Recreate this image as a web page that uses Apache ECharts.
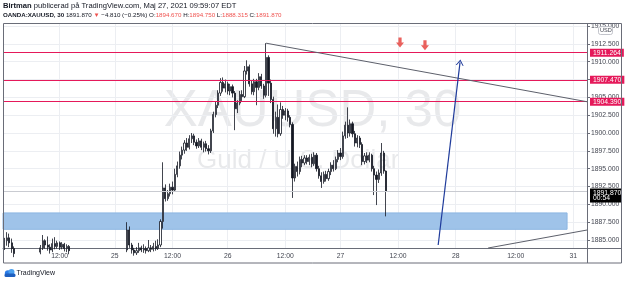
<!DOCTYPE html>
<html>
<head>
<meta charset="utf-8">
<script src="https://cdn.jsdelivr.net/npm/echarts/dist/echarts.min.js"></script>
<style>
  html, body { margin: 0; padding: 0; background: #fff; }
  #chart { width: 625px; height: 283px; }
</style>
</head>
<body>
<div id="chart"></div>
<script>
// 30 min candles, XAUUSD: [open, close, low, high]
const ohlc = [
  [1884.2,1884.9,1883.6,1885.3],[1884.9,1885.3,1884.2,1886.1],[1885.3,1884.6,1884.0,1885.9],[1884.6,1883.8,1883.2,1885.2],
  [1883.8,1883.1,1882.6,1884.1],[1883.1,1882.6,1882.0,1883.4],[1882.6,1882.0,1881.5,1882.9],[1882.0,1882.4,1881.6,1882.8],
  [1882.4,1881.8,1881.2,1882.7],[1881.8,1882.3,1881.4,1882.6],[1882.3,1882.9,1882.0,1883.2],[1882.9,1882.5,1882.1,1883.3],
  [1882.5,1883.0,1882.2,1883.4],[1883.0,1882.7,1882.3,1883.5],[1882.7,1883.3,1882.4,1883.7],[1883.3,1883.9,1883.0,1884.3],
  [1883.9,1884.9,1883.6,1885.7],[1884.9,1884.3,1883.8,1885.1],[1884.3,1884.0,1883.5,1885.5],[1884.0,1883.6,1883.1,1884.4],
  [1883.6,1884.5,1883.3,1885.2],[1884.5,1884.1,1883.7,1885.4],[1884.1,1884.6,1883.8,1884.9],[1884.6,1884.0,1883.6,1884.8],
  [1884.0,1884.4,1883.7,1884.7],[1884.4,1883.8,1883.4,1884.6],[1883.8,1884.1,1883.3,1884.4],[1884.1,1883.5,1883.0,1884.3],
  [1883.5,1883.0,1882.6,1883.7],[1883.0,1882.4,1882.0,1883.2],[1882.4,1882.8,1882.1,1883.1],[1882.8,1882.1,1881.7,1883.0],
  [1882.1,1881.6,1881.0,1882.4],[1881.6,1882.0,1881.2,1882.3],[1882.0,1881.4,1880.9,1882.2],[1881.4,1880.9,1880.4,1881.7],
  [1880.9,1881.5,1880.6,1881.8],[1881.5,1881.9,1881.1,1882.2],[1881.9,1881.3,1880.9,1882.1],[1881.3,1881.8,1881.0,1882.0],
  [1881.8,1882.4,1881.5,1882.7],[1882.4,1882.1,1881.7,1882.8],[1882.1,1882.6,1881.8,1882.9],[1882.6,1882.2,1881.9,1883.0],
  [1882.2,1882.8,1882.0,1883.1],[1882.8,1882.5,1882.1,1883.2],[1882.5,1882.9,1882.2,1883.3],[1882.9,1883.3,1882.6,1883.6],
  [1883.3,1882.8,1882.4,1883.5],[1882.8,1883.2,1882.5,1883.6],[1883.2,1883.6,1882.9,1883.8],[1883.6,1886.4,1883.3,1887.5],
  [1886.4,1884.3,1883.9,1886.9],[1884.3,1883.6,1883.1,1884.6],[1883.6,1883.2,1882.8,1883.9],[1883.2,1883.5,1882.9,1884.0],
  [1883.5,1883.9,1883.2,1884.6],[1883.9,1883.6,1883.3,1884.2],[1883.6,1883.8,1883.2,1884.4],[1883.8,1883.5,1883.1,1884.1],
  [1883.5,1883.9,1883.3,1885.0],[1883.9,1883.7,1883.3,1884.3],[1883.7,1884.1,1883.4,1884.6],[1884.1,1883.8,1883.5,1884.9],
  [1883.8,1884.3,1883.6,1885.1],[1884.3,1887.6,1884.0,1887.9],[1887.6,1892.3,1886.6,1895.9],[1892.3,1890.8,1890.4,1892.8],
  [1890.8,1891.5,1890.5,1892.0],[1891.5,1892.4,1891.1,1892.9],[1892.4,1892.0,1891.4,1893.2],[1892.0,1894.2,1891.8,1895.0],
  [1894.2,1895.4,1893.8,1896.0],[1895.4,1896.9,1895.0,1897.4],[1896.9,1897.6,1896.3,1898.1],[1897.6,1898.6,1897.1,1899.0],
  [1898.6,1898.0,1897.5,1899.3],[1898.0,1899.2,1897.7,1899.7],[1899.2,1899.6,1898.6,1900.0],[1899.6,1898.7,1898.3,1899.9],
  [1898.7,1898.2,1897.8,1899.1],[1898.2,1898.9,1897.9,1899.3],[1898.9,1898.0,1897.6,1899.2],[1898.0,1898.5,1897.3,1898.8],
  [1898.5,1897.8,1897.4,1898.9],[1897.8,1897.5,1897.0,1898.3],[1897.5,1900.3,1897.2,1900.6],[1900.3,1902.6,1900.0,1903.0],
  [1902.6,1903.9,1902.2,1904.4],[1903.9,1905.6,1903.5,1906.0],[1905.6,1907.1,1905.2,1907.7],[1907.1,1906.3,1905.8,1907.8],
  [1906.3,1906.9,1905.7,1907.5],[1906.9,1905.9,1905.4,1907.2],[1905.9,1906.5,1905.3,1906.9],[1906.5,1905.6,1905.0,1906.8],
  [1905.6,1903.4,1900.4,1905.9],[1903.4,1904.2,1902.8,1904.6],[1904.2,1905.4,1903.9,1905.9],[1905.4,1905.1,1904.5,1906.0],
  [1905.1,1908.7,1904.9,1909.4],[1908.7,1909.3,1908.2,1910.2],[1909.3,1906.9,1906.5,1909.6],[1906.9,1905.8,1905.4,1907.3],
  [1905.8,1907.2,1905.3,1907.6],[1907.2,1906.4,1903.9,1907.6],[1906.4,1907.9,1906.0,1908.4],[1907.9,1906.6,1906.2,1908.3],
  [1906.6,1905.3,1904.8,1906.9],[1905.3,1910.6,1905.0,1912.6],[1910.6,1907.0,1905.2,1910.9],[1907.0,1904.7,1904.2,1907.5],
  [1904.7,1900.6,1899.9,1905.1],[1900.6,1902.2,1899.5,1903.0],[1902.2,1899.9,1899.4,1904.0],[1899.9,1903.3,1899.6,1904.3],
  [1903.3,1902.5,1902.0,1903.8],[1902.5,1903.1,1901.8,1903.5],[1903.1,1902.2,1901.6,1903.4],[1902.2,1901.2,1900.8,1902.5],
  [1901.2,1893.7,1890.9,1901.5],[1893.7,1895.3,1893.2,1895.7],[1895.3,1894.6,1893.9,1896.0],[1894.6,1896.3,1894.2,1896.7],
  [1896.3,1895.8,1895.2,1896.8],[1895.8,1896.5,1895.5,1896.9],[1896.5,1896.0,1895.6,1896.9],[1896.0,1896.6,1895.5,1897.0],
  [1896.6,1895.7,1895.2,1897.1],[1895.7,1896.9,1895.4,1897.3],[1896.9,1895.0,1894.6,1897.2],[1895.0,1894.0,1893.6,1895.4],
  [1894.0,1893.2,1892.3,1894.5],[1893.2,1894.2,1892.9,1894.6],[1894.2,1893.6,1893.2,1894.7],[1893.6,1894.6,1893.3,1895.0],
  [1894.6,1895.5,1894.1,1895.9],[1895.5,1895.0,1894.6,1896.2],[1895.0,1896.3,1894.8,1896.7],[1896.3,1897.2,1895.9,1897.6],
  [1897.2,1896.7,1896.2,1897.9],[1896.7,1899.6,1896.4,1900.2],[1899.6,1901.1,1899.2,1901.6],[1901.1,1900.0,1899.3,1903.6],
  [1900.0,1901.3,1899.5,1901.9],[1901.3,1899.9,1899.4,1901.6],[1899.9,1898.6,1898.1,1900.3],[1898.6,1899.3,1898.0,1899.7],
  [1899.3,1898.4,1897.9,1899.6],[1898.4,1896.0,1895.5,1898.7],[1896.0,1896.8,1895.6,1897.2],[1896.8,1896.2,1895.8,1897.3],
  [1896.2,1896.9,1895.9,1897.3],[1896.9,1895.0,1894.6,1897.1],[1895.0,1894.1,1891.3,1895.4],[1894.1,1893.5,1889.9,1894.6],
  [1893.5,1894.4,1893.0,1894.9],[1894.4,1897.2,1894.0,1898.6],[1897.2,1894.67,1894.3,1897.5],[1894.67,1891.87,1888.315,1894.75]
];

// time axis: bar index of each label
const timeTickIdx = [23, 46, 70, 93, 117, 140, 164, 188, 213, 237];
const timeTickLabels = ['12:00', '25', '12:00', '26', '12:00', '27', '12:00', '28', '12:00', '31'];
const priceTicks = [1885, 1887.5, 1890, 1892.5, 1895, 1897.5, 1900, 1902.5, 1905, 1907.5, 1910, 1912.5, 1915];

// drawings
const hLevels = [1911.264, 1907.470, 1904.390];
const lastPrice = 1891.870;
const countdown = '00:54';
const zoneBox = [[-0.6, 1888.8], [234.4, 1886.5]];
const trendDown = [[109, 1912.6], [242.7, 1904.39]];
const trendUp = [[201.5, 1883.88], [242.7, 1886.4]];
const blueArrow = [[180.7, 1884.3], [189.8, 1909.9]];
const redArrows = [[164.8, 1912.7], [175.2, 1912.3]];

const chart = echarts.init(document.getElementById('chart'));
const font = 'Liberation Sans';
const red = '#e5195a';
const grey = '#5d606b';
const xMin = -0.6, xMax = 242.7;

const candles = ohlc.map((d, i) => [i, d[0], d[1], d[2], d[3]]);

// horizontal levels drawn as two-point segments across the pane
const levelLines = hLevels.map(v => [
  {
    coord: [xMin, v], symbol: 'none',
    lineStyle: { color: red, width: 1, type: 'solid' },
    label: {
      show: true, position: 'end', distance: 3,
      formatter: v.toFixed(3), color: '#fff', backgroundColor: red,
      padding: [1, 3, 0, 3], fontSize: 6.8, fontFamily: font
    }
  },
  { coord: [xMax, v], symbol: 'none' }
]);

const priceLine = [
  {
    coord: [xMin, lastPrice], symbol: 'none',
    lineStyle: { color: '#c9cbd1', width: 1, type: 'solid' },
    label: {
      show: true, position: 'end', distance: 3,
      formatter: '{e| }\n{a|' + lastPrice.toFixed(3) + '}\n{b|' + countdown + '}',
      rich: {
        e: { height: 9, lineHeight: 9, fontSize: 6 },
        a: { backgroundColor: '#000', color: '#fff', width: 26, height: 6.5, lineHeight: 6.5, padding: [1, 3, 0, 3], fontSize: 6.8, fontFamily: font },
        b: { backgroundColor: '#000', color: '#fff', width: 26, height: 6.5, lineHeight: 6.5, padding: [0, 3, 1, 3], fontSize: 6.8, fontFamily: font }
      }
    }
  },
  { coord: [xMax, lastPrice], symbol: 'none' }
];

const segment = (pts, style, endSymbol, endSize) => [
  { coord: pts[0], symbol: 'none', lineStyle: style, label: { show: false } },
  { coord: pts[1], symbol: endSymbol || 'none', symbolSize: endSize || 4 }
];

const option = {
  animation: false,
  backgroundColor: '#fff',
  textStyle: { fontFamily: font },
  grid: { left: 3, top: 23.5, right: 38, bottom: 35 },
  xAxis: {
    type: 'value', min: xMin, max: xMax,
    axisLine: { show: true, onZero: false, lineStyle: { color: '#6a6d78' } },
    axisTick: { show: false, customValues: timeTickIdx },
    axisLabel: {
      customValues: timeTickIdx,
      formatter: v => timeTickLabels[timeTickIdx.indexOf(v)],
      fontSize: 6.8, color: '#434651', margin: 5, fontFamily: font
    },
    splitLine: { show: true, lineStyle: { color: '#eceef2' } }
  },
  yAxis: {
    type: 'value', position: 'right', min: 1883.88, max: 1915.36,
    axisLine: { show: true, onZero: false, lineStyle: { color: '#6a6d78' } },
    axisTick: { show: true, length: 3, customValues: priceTicks, lineStyle: { color: '#6a6d78' } },
    axisLabel: {
      customValues: priceTicks,
      formatter: v => v.toFixed(3),
      fontSize: 6.8, color: '#434651', margin: 4, fontFamily: font
    },
    splitLine: { show: true, lineStyle: { color: '#eceef2' } }
  },
  series: [
    {
      type: 'candlestick',
      data: candles,
      encode: { x: 0, y: [1, 2, 3, 4] },
      barWidth: 1.6,
      itemStyle: {
        color: '#ffffff', color0: '#131722',
        borderColor: '#131722', borderColor0: '#131722', borderWidth: 0.8
      },
      markArea: {
        silent: true,
        itemStyle: { color: '#9fc3e9', borderColor: '#8db6e2', borderWidth: 1 },
        data: [[{ coord: zoneBox[0] }, { coord: zoneBox[1] }]]
      }
    },
    {
      type: 'line',
      data: [],
      markLine: {
        silent: true,
        symbol: ['none', 'none'],
        data: [
          ...levelLines,
          priceLine,
          segment(trendDown, { color: grey, width: 1, type: 'solid' }),
          segment(trendUp, { color: grey, width: 1, type: 'solid' }),
          segment(blueArrow, { color: '#1f3b9b', width: 1.2, type: 'solid' },
            'path://M0,9 L5,0 L10,9 L8.6,9 L5,2.6 L1.4,9 Z', [8, 6])
        ]
      }
    },
    {
      type: 'scatter',
      data: redArrows,
      symbol: 'path://M3,0 L7,0 L7,5 L10,5 L5,10 L0,5 L3,5 Z',
      symbolSize: [8, 10],
      itemStyle: { color: '#e53935' },
      silent: true
    }
  ],
  graphic: [
    // watermark
    { type: 'text', z: -1, left: 'center', top: 86, style: { text: 'XAUUSD, 30', font: '51px ' + font, fill: 'rgba(120,123,134,0.17)' } },
    { type: 'text', z: -1, left: 197, top: 148, style: { text: 'Guld / U.S. Dollar', font: '26px ' + font, fill: 'rgba(120,123,134,0.17)' } },
    // header
    {
      type: 'text', left: 3, top: 2,
      style: {
        text: '{b|Birtman} publicerad på TradingView.com, Maj 27, 2021 09:59:07 EDT',
        font: '7.6px ' + font, fill: '#131722',
        rich: { b: { fontWeight: 'bold', fontSize: 7.6, fontFamily: font, fill: '#131722' } }
      }
    },
    {
      type: 'text', left: 3, top: 12,
      style: {
        text: '{b|OANDA:XAUUSD, 30} 1891.870 {r|▼} −4.810 (−0.25%) O:{r|1894.670} H:{r|1894.750} L:{r|1888.315} C:{r|1891.870}',
        font: '6.2px ' + font, fill: '#131722',
        rich: {
          b: { fontWeight: 'bold', fontSize: 6.2, fontFamily: font, fill: '#131722' },
          r: { fontSize: 6.2, fontFamily: font, fill: '#ef5350' }
        }
      }
    },
    // frame
    { type: 'rect', z: 50, shape: { x: 3.5, y: 23.5, width: 618, height: 239.5 }, style: { fill: null, stroke: '#6a6d78', lineWidth: 1 } },
    { type: 'line', z: 50, shape: { x1: 587.5, y1: 248, x2: 587.5, y2: 263 }, style: { stroke: '#6a6d78', lineWidth: 1 } },
    { type: 'line', z: 50, shape: { x1: 587, y1: 248.5, x2: 621, y2: 248.5 }, style: { stroke: '#6a6d78', lineWidth: 1 } },
    // USD tag
    { type: 'rect', z: 60, shape: { x: 598.5, y: 26.5, width: 14, height: 8, r: 2 }, style: { fill: 'rgba(255,255,255,0.85)', stroke: '#b2b5be', lineWidth: 0.8 } },
    { type: 'text', z: 61, left: 600, top: 27.6, style: { text: 'USD', font: '5.6px ' + font, fill: '#434651' } },
    // logo
    { type: 'circle', shape: { cx: 8, cy: 273.5, r: 3.2 }, style: { fill: '#2b7de9' } },
    { type: 'circle', shape: { cx: 11.5, cy: 272, r: 3 }, style: { fill: '#4aa0f0' } },
    { type: 'rect', shape: { x: 4.5, y: 273.5, width: 11, height: 3.5, r: 1.5 }, style: { fill: '#1e5fbf' } },
    { type: 'text', left: 16.5, top: 270, style: { text: 'TradingView', font: '7px ' + font, fill: '#131722' } }
  ]
};

chart.setOption(option);
</script>
</body>
</html>
